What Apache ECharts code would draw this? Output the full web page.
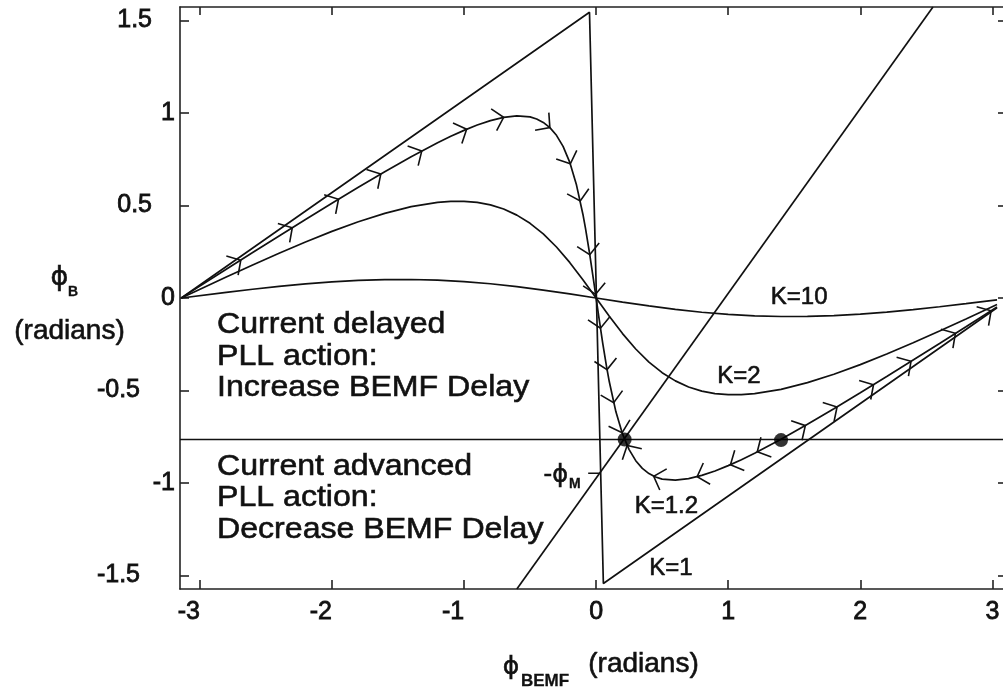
<!DOCTYPE html>
<html>
<head>
<meta charset="utf-8">
<script src="https://cdn.jsdelivr.net/npm/echarts@6/dist/echarts.min.js"></script>
<style>
  html, body { margin: 0; padding: 0; background: #ffffff; }
  #main { width: 1003px; height: 690px; }
</style>
</head>
<body>
<div id="main"></div>
<script>
// Tick positions on both axes
const xTicks = [-3, -2, -1, 0, 1, 2, 3];
const yTicks = [-1.5, -1, -0.5, 0, 0.5, 1, 1.5];

// Phase trajectories [phi_BEMF, phi_B] for each loop gain K
const curveK1 = [[-3.14, 0], [-0.05, 1.545], [0.055, -1.543], [3.035, -0.053]];

const curveK12 = [
  [-3.14, 0.0007], [-2.8, 0.1551], [-2.6, 0.2456], [-2.4, 0.3354], [-2.2, 0.4246],
  [-2.0, 0.5125], [-1.8, 0.5988], [-1.6, 0.6827], [-1.4, 0.7633], [-1.2, 0.8387],
  [-1.1, 0.8740], [-1.0, 0.9060], [-0.9, 0.9348], [-0.8, 0.9588], [-0.7, 0.9767],
  [-0.6, 0.9848], [-0.5, 0.9789], [-0.45, 0.9675], [-0.4, 0.9489], [-0.35, 0.9207],
  [-0.3, 0.8794], [-0.25, 0.8196], [-0.2, 0.7348], [-0.15, 0.6155],
  [-0.1, 0.4530], [-0.08, 0.3747], [-0.05, 0.2436], [-0.02, 0.0996], [0, 0],
  [0.02, -0.0996], [0.05, -0.2436], [0.08, -0.3747], [0.1, -0.4530], [0.15, -0.6155],
  [0.2, -0.7348], [0.25, -0.8196], [0.3, -0.8794], [0.35, -0.9207], [0.4, -0.9489],
  [0.45, -0.9675], [0.5, -0.9789], [0.6, -0.9848], [0.7, -0.9767], [0.8, -0.9588],
  [0.9, -0.9348], [1.0, -0.9060], [1.1, -0.8740], [1.2, -0.8387],
  [1.4, -0.7633], [1.6, -0.6827], [1.8, -0.5988], [2.0, -0.5125], [2.2, -0.4246],
  [2.4, -0.3354], [2.6, -0.2456], [2.8, -0.1551], [3.035, -0.0484]
];

const curveK2 = [
  [-3.14, 0.0005], [-2.8, 0.1134], [-2.6, 0.1785], [-2.4, 0.2420], [-2.2, 0.3029],
  [-2.0, 0.3600], [-1.8, 0.4122], [-1.6, 0.4576], [-1.4, 0.4942], [-1.2, 0.5172],
  [-1.1, 0.5224], [-1.0, 0.5226], [-0.9, 0.5167], [-0.8, 0.5036], [-0.7, 0.4809],
  [-0.6, 0.4479], [-0.5, 0.4037], [-0.4, 0.3468], [-0.3, 0.2757], [-0.2, 0.1924],
  [-0.1, 0.0990], [0, 0],
  [0.1, -0.0990], [0.2, -0.1924], [0.3, -0.2757], [0.4, -0.3468], [0.5, -0.4037],
  [0.6, -0.4479], [0.7, -0.4809], [0.8, -0.5036], [0.9, -0.5167], [1.0, -0.5226],
  [1.1, -0.5224], [1.2, -0.5172],
  [1.4, -0.4942], [1.6, -0.4576], [1.8, -0.4122], [2.0, -0.3600], [2.2, -0.3029],
  [2.4, -0.2420], [2.6, -0.1785], [2.8, -0.1134], [3.035, -0.0355]
];

const curveK10 = [
  [-3.14, 0], [-2.8, 0.0306], [-2.6, 0.0474], [-2.4, 0.0628], [-2.2, 0.0762],
  [-2.0, 0.0871], [-1.8, 0.0949], [-1.6, 0.0993], [-1.4, 0.0999], [-1.2, 0.0964],
  [-1.0, 0.0887], [-0.8, 0.0770], [-0.6, 0.0615], [-0.4, 0.0429], [-0.2, 0.0220],
  [0, 0], [0.2, -0.0220], [0.4, -0.0429], [0.6, -0.0615], [0.8, -0.0770],
  [1.0, -0.0887], [1.2, -0.0964], [1.4, -0.0999], [1.6, -0.0993], [1.8, -0.0949],
  [2.0, -0.0871], [2.2, -0.0762], [2.4, -0.0628], [2.6, -0.0474], [2.8, -0.0306],
  [3.035, -0.0097]
];

// Straight reference lines
const currentLine = [[-0.60, -1.573], [2.55, 1.573]];
const thresholdLine = [[-3.15, -0.765], [3.103, -0.765]];
const phiMTick = [[-0.06, -0.947], [0.031, -0.947]];

// Equilibrium points where the K=1.2 trajectory meets the threshold
const equilibria = [[0.216, -0.765], [1.40, -0.768]];

// Direction arrows on the K=1.2 trajectory: [tipX, tipY, tailX, tailY]
const arrowMarks = [
  [-2.69, 0.204, -2.8, 0.1551],
  [-2.30, 0.380, -2.4, 0.3354],
  [-1.95, 0.534, -2.0, 0.5125],
  [-1.63, 0.670, -1.73, 0.628],
  [-1.32, 0.794, -1.4, 0.7633],
  [-0.98, 0.912, -1.08, 0.881],
  [-0.70, 0.977, -0.8, 0.9588],
  [-0.35, 0.921, -0.4, 0.9489],
  [-0.195, 0.725, -0.25, 0.8196],
  [-0.12, 0.524, -0.15, 0.6155],
  [-0.048, 0.234, -0.08, 0.3747],
  [-0.004, 0.020, -0.02, 0.0996],
  [0.033, -0.163, 0.02, -0.0996],
  [0.083, -0.387, 0.05, -0.2436],
  [0.133, -0.566, 0.1, -0.4530],
  [0.197, -0.728, 0.15, -0.6155],
  [0.235, -0.797, 0.3, -0.8794],
  [0.436, -0.964, 0.5, -0.9789],
  [0.765, -0.966, 0.9, -0.935],
  [1.017, -0.901, 1.2, -0.8387],
  [1.22, -0.831, 1.4, -0.7633],
  [1.584, -0.690, 1.4, -0.7633],
  [1.824, -0.589, 1.6, -0.6827],
  [2.10, -0.469, 2.0, -0.5125],
  [2.384, -0.342, 2.2, -0.4246],
  [2.72, -0.191, 2.6, -0.2456],
  [2.99, -0.069, 2.8, -0.1551]
];

// Curve captions: [x, y, text]
const curveLabels = [
  [1.537, 0.003, 'K=10'],
  [1.081, -0.422, 'K=2'],
  [0.532, -1.127, 'K=1.2'],
  [0.566, -1.459, 'K=1']
];

const FONT = '"Liberation Sans", Arial, Helvetica, sans-serif';
const GREEK = '"DejaVu Sans", "Liberation Sans", sans-serif';
const INK = '#111111';
const HEAVY = 0.6;

const chart = echarts.init(document.getElementById('main'), null, { renderer: 'canvas' });

function lineSeries(data, width) {
  return {
    type: 'line',
    data: data,
    showSymbol: false,
    symbol: 'none',
    smooth: false,
    lineStyle: { color: INK, width: width },
    silent: true,
    z: 3
  };
}

const axisLineStyle = { color: '#222', width: 1.6 };

function txt(x, y, text, size, opts) {
  opts = opts || {};
  return {
    type: 'text', x: x, y: y, scaleX: opts.scaleX || 1, silent: true,
    style: {
      text: text,
      fontFamily: opts.family || FONT,
      fontSize: size,
      fontWeight: opts.weight || 'normal',
      lineHeight: opts.lineHeight,
      fill: INK,
      stroke: INK,
      lineWidth: opts.stroke != null ? opts.stroke : HEAVY,
      align: opts.align || 'left',
      verticalAlign: opts.valign || 'middle'
    }
  };
}

const option = {
  backgroundColor: '#ffffff',
  animation: false,
  grid: {
    left: 180, top: 7, width: 826, height: 582,
    containLabel: false, outerBoundsMode: 'none'
  },
  xAxis: [
    {
      type: 'value', min: -3.15, max: 3.103, position: 'bottom',
      axisLine: { show: true, onZero: false, lineStyle: axisLineStyle },
      axisTick: { show: true, inside: true, length: 9, customValues: xTicks, lineStyle: axisLineStyle },
      splitLine: { show: false },
      axisLabel: {
        customValues: xTicks, margin: 11,
        fontFamily: FONT, fontSize: 25, color: INK,
        textBorderColor: INK, textBorderWidth: 0.8,
        formatter: v => (v < 0 ? '{n|' + v + '}' : '{p|' + v + '}'),
        rich: { n: { padding: [0, 22, 0, 0] }, p: {} }
      }
    },
    {
      type: 'value', min: -3.15, max: 3.103, position: 'top',
      axisLine: { show: true, onZero: false, lineStyle: axisLineStyle },
      axisTick: { show: true, inside: true, length: 8, customValues: xTicks, lineStyle: axisLineStyle },
      splitLine: { show: false },
      axisLabel: { show: false }
    }
  ],
  yAxis: [
    {
      type: 'value', min: -1.573, max: 1.573, position: 'left',
      axisLine: { show: true, onZero: false, lineStyle: axisLineStyle },
      axisTick: { show: true, inside: true, length: 9, customValues: yTicks, lineStyle: axisLineStyle },
      splitLine: { show: false },
      axisLabel: {
        customValues: yTicks, margin: 5,
        fontFamily: FONT, fontSize: 25, color: INK,
        textBorderColor: INK, textBorderWidth: 0.8,
        formatter: v => {
          const s = String(v);
          if (Number.isInteger(v)) return '{i|' + s + '}';
          return (v < 0 ? '{n|' : '{p|') + s + '}';
        },
        rich: { i: {}, p: { padding: [0, 23, 0, 0] }, n: { padding: [0, 35, 0, 0] } }
      }
    },
    {
      type: 'value', min: -1.573, max: 1.573, position: 'right',
      axisLine: { show: true, onZero: false, lineStyle: axisLineStyle },
      axisTick: { show: true, inside: true, length: 8, customValues: yTicks, lineStyle: axisLineStyle },
      splitLine: { show: false },
      axisLabel: { show: false }
    }
  ],
  series: [
    lineSeries(curveK1, 1.7),
    lineSeries(curveK12, 1.7),
    lineSeries(curveK2, 1.7),
    lineSeries(curveK10, 1.7),
    lineSeries(currentLine, 1.7),
    lineSeries(thresholdLine, 1.3),
    lineSeries(phiMTick, 1.5),
    {
      type: 'custom',
      data: arrowMarks,
      encode: { x: [0, 2], y: [1, 3] },
      silent: true,
      z: 4,
      renderItem: function (params, api) {
        const tip = api.coord([api.value(0), api.value(1)]);
        const tail = api.coord([api.value(2), api.value(3)]);
        const a = Math.atan2(tail[1] - tip[1], tail[0] - tip[0]);
        const len = 15, half = 48 * Math.PI / 180;
        const p1 = [tip[0] + len * Math.cos(a + half), tip[1] + len * Math.sin(a + half)];
        const p2 = [tip[0] + len * Math.cos(a - half), tip[1] + len * Math.sin(a - half)];
        return {
          type: 'polyline',
          shape: { points: [p1, tip, p2] },
          style: { stroke: INK, lineWidth: 1.6, fill: null }
        };
      }
    },
    {
      type: 'scatter',
      data: equilibria,
      symbol: 'circle',
      symbolSize: 14,
      itemStyle: { color: '#000' },
      silent: true,
      z: 5
    },
    {
      type: 'scatter',
      data: curveLabels,
      encode: { x: 0, y: 1 },
      symbolSize: 0,
      itemStyle: { color: '#000', opacity: 1 },
      silent: true,
      z: 6,
      label: {
        show: true, position: 'inside',
        formatter: p => p.value[2],
        fontFamily: FONT, fontSize: 24, color: INK, opacity: 1,
        textBorderColor: INK, textBorderWidth: 0.6
      }
    }
  ],
  graphic: [
    // region annotations
    txt(217, 309, 'Current delayed\nPLL action:\nIncrease BEMF Delay', 30,
        { scaleX: 1.07, lineHeight: 31.5, valign: 'top' }),
    txt(217, 450.5, 'Current advanced\nPLL action:\nDecrease BEMF Delay', 30,
        { scaleX: 1.07, lineHeight: 31.5, valign: 'top' }),
    // y axis title
    txt(59.5, 278, 'ϕ', 27, { family: GREEK, align: 'center' }),
    txt(68, 292, 'B', 14, { weight: 'bold', stroke: 0.3 }),
    txt(69.5, 331.5, '(radians)', 28, { align: 'center' }),
    // x axis title
    txt(511, 667, 'ϕ', 25, { family: GREEK, align: 'center' }),
    txt(521, 681, 'BEMF', 17, { weight: 'bold', stroke: 0.3 }),
    txt(643.5, 664.5, '(radians)', 28, { align: 'center' }),
    // -phi_M marker text
    txt(568, 476, '-ϕ', 24, { family: GREEK, align: 'right' }),
    txt(569, 484, 'M', 14, { weight: 'bold', stroke: 0.3 })
  ]
};

chart.setOption(option);
</script>
</body>
</html>
